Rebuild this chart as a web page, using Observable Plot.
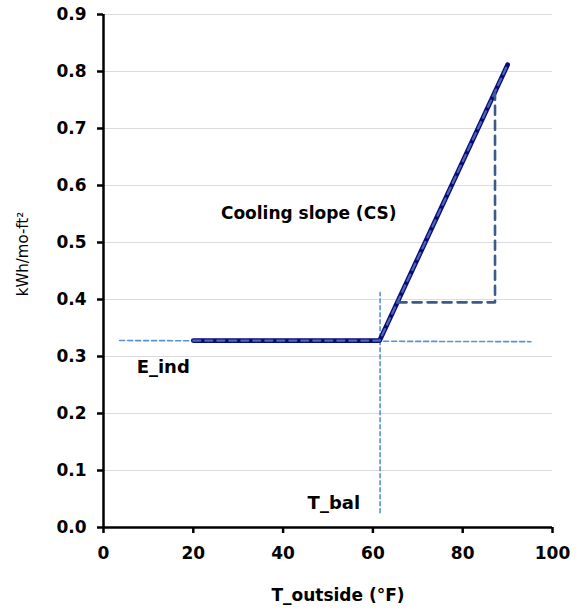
<!DOCTYPE html>
<html><head><meta charset="utf-8">
<script src="https://cdn.jsdelivr.net/npm/d3@7"></script>
<script src="https://cdn.jsdelivr.net/npm/@observablehq/plot@0.6"></script>
<style>body{margin:0;background:#fff}</style>
</head><body><div id="chart"></div>
<script>
const xTicks = [0, 20, 40, 60, 80, 100];
const yTicks = [0.0, 0.1, 0.2, 0.3, 0.4, 0.5, 0.6, 0.7, 0.8, 0.9];
const gridTicks = [0.1, 0.2, 0.3, 0.4, 0.5, 0.6, 0.7, 0.8, 0.9];

// model: flat baseline then cooling slope
const modelX = [20, 61.5, 90];
const modelY = [0.328, 0.328, 0.812];
// slope triangle (run / rise)
const slopeX = [65.5, 87.2, 87.2];
const slopeY = [0.395, 0.395, 0.762];
// E_ind reference line
const eIndX = [3.6, 95.2];
const eIndY = [0.328, 0.326];
// T_bal reference line
const tBalX = [61.6, 61.6];
const tBalY = [0.026, 0.412];

const labelText = ["Cooling slope (CS)", "E_ind", "T_bal"];
const labelX = [45.7, 13.3, 51.3];
const labelY = [0.551, 0.281, 0.043];

const pts = (xs, ys) => xs.map((x, i) => ({x, y: ys[i]}));
const model = pts(modelX, modelY);
const slope = pts(slopeX, slopeY);
const eInd = pts(eIndX, eIndY);
const tBal = pts(tBalX, tBalY);

const chart = Plot.plot({
  width: 579,
  height: 610,
  marginLeft: 103,
  marginRight: 27,
  marginTop: 14,
  marginBottom: 83,
  style: {fontFamily: "DejaVu Sans", fontSize: "17px", fontWeight: "bold", background: "#fff", color: "#000"},
  x: {domain: [0, 100], ticks: xTicks},
  y: {domain: [0, 0.9], ticks: yTicks},
  marks: [
    Plot.gridY(gridTicks, {stroke: "#dcdcdc", strokeOpacity: 1, strokeWidth: 1}),
    Plot.axisY(yTicks, {tickSize: 6, tickPadding: 11, tickFormat: d => d.toFixed(1), label: null, strokeWidth: 2.5, fontSize: 17, fontWeight: "bold"}),
    Plot.axisX(xTicks, {tickSize: 6, tickPadding: 13, tickFormat: d => String(d), label: null, strokeWidth: 2.5, fontSize: 17, fontWeight: "bold"}),
    Plot.ruleX([0], {y1: 0, y2: 0.9, stroke: "#000", strokeWidth: 2.5}),
    Plot.ruleY([0], {x1: 0, x2: 100, stroke: "#000", strokeWidth: 2.5}),
    Plot.line(eInd, {x: "x", y: "y", stroke: "#5b8fd6", strokeWidth: 1.6, strokeDasharray: "5,3"}),
    Plot.line(tBal, {x: "x", y: "y", stroke: "#5b8fd6", strokeWidth: 1.6, strokeDasharray: "4,3"}),
    Plot.line(model, {x: "x", y: "y", stroke: "#0a0a80", strokeWidth: 4.8, strokeLinecap: "round", strokeLinejoin: "round"}),
    Plot.line(model, {x: "x", y: "y", stroke: "#4a6aa8", strokeWidth: 2.2, strokeDasharray: "7,5"}),
    Plot.line(slope, {x: "x", y: "y", stroke: "#3c5a8a", strokeWidth: 2.6, strokeDasharray: "9,6"}),
    Plot.text([labelText[0]], {x: [labelX[0]], y: [labelY[0]], text: d => d, fontFamily: "DejaVu Sans", fontSize: 17, fontWeight: "bold", fill: "#000", textAnchor: "middle"}),
    Plot.text(labelText.slice(1), {x: labelX.slice(1), y: labelY.slice(1), text: d => d, fontFamily: "DejaVu Sans", fontSize: 18, fontWeight: "bold", fill: "#000", textAnchor: "middle"}),
    Plot.text(["kWh/mo-ft²"], {frameAnchor: "left", rotate: -90, dx: -80, dy: -17, text: d => d, fontFamily: "DejaVu Sans", fontSize: 15, fontWeight: "normal", fill: "#000", textAnchor: "middle", lineAnchor: "middle"}),
    Plot.text(["T_outside (°F)"], {frameAnchor: "bottom", dx: 10, dy: 68, text: d => d, fontFamily: "DejaVu Sans", fontSize: 17, fontWeight: "bold", fill: "#000", textAnchor: "middle", lineAnchor: "middle"})
  ]
});
document.getElementById("chart").appendChild(chart);
</script>
</body></html>
